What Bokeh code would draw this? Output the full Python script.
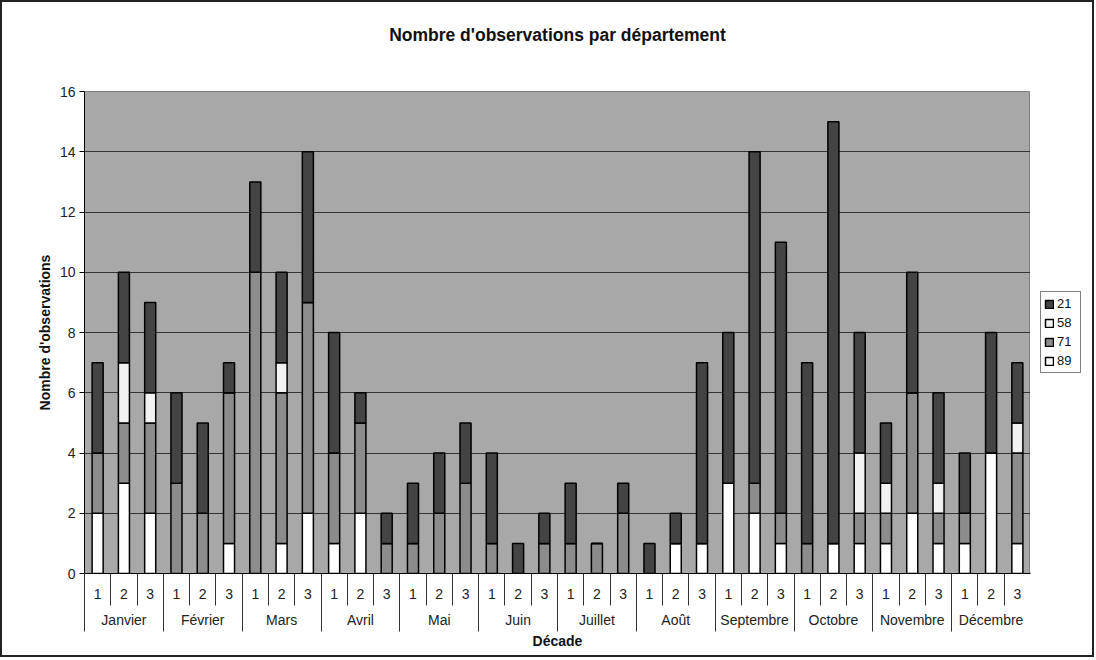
from bokeh.plotting import figure
from bokeh.layouts import row
from bokeh.models import (ColumnDataSource, Range1d, LinearAxis, FixedTicker,
                          Legend, LegendItem, Title)
from bokeh.embed import file_html
from bokeh.resources import INLINE

# ---------------- data ----------------
months = ["Janvier", "Février", "Mars", "Avril", "Mai", "Juin", "Juillet",
          "Août", "Septembre", "Octobre", "Novembre", "Décembre"]
decades = ["1", "2", "3"]
series_names = ["21", "58", "71", "89"]

s89 = [2, 3, 2, 0, 0, 1, 0, 1, 2, 1, 2, 0, 0, 0, 0, 0, 0, 0,
       0, 0, 0, 0, 1, 1, 3, 2, 1, 0, 1, 1, 1, 2, 1, 1, 4, 1]
s71 = [2, 2, 3, 3, 2, 5, 10, 5, 7, 3, 3, 1, 1, 2, 3, 1, 0, 1,
       1, 1, 2, 0, 0, 0, 0, 1, 1, 1, 0, 1, 1, 4, 1, 1, 0, 3]
s58 = [0, 2, 1, 0, 0, 0, 0, 1, 0, 0, 0, 0, 0, 0, 0, 0, 0, 0,
       0, 0, 0, 0, 0, 0, 0, 0, 0, 0, 0, 2, 1, 0, 1, 0, 0, 1]
s21 = [3, 3, 3, 3, 3, 1, 3, 3, 5, 4, 1, 1, 2, 2, 2, 3, 1, 1,
       2, 0, 1, 1, 1, 6, 5, 11, 9, 6, 14, 4, 2, 4, 3, 2, 4, 2]
y_ticks = [0, 2, 4, 6, 8, 10, 12, 14, 16]
title_text = "Nombre d'observations par département"

colors = {"89": "#ffffff", "71": "#8c8c8c", "58": "#f2f2f2", "21": "#444444"}

# ---------------- layout helpers ----------------
n_dec = len(decades)
n = len(months) * n_dec
x_centers = [i + 0.5 for i in range(n)]
labels_dec = [decades[i % n_dec] for i in range(n)]
month_centers = [m * n_dec + n_dec / 2 for m in range(len(months))]

source = ColumnDataSource(dict(x=x_centers, s89=s89, s71=s71, s58=s58, s21=s21))

FONT = "Liberation Sans"
TOTAL_H = 653

p = figure(frame_width=946, frame_height=482, output_backend="svg", toolbar_location=None,
           x_range=Range1d(0, n), y_range=Range1d(0, 16),
           x_axis_location=None,
           min_border_left=82, min_border_right=0, min_border_top=89,
           min_border_bottom=82)

# real title, with a thin spacer title between it and the plot area
p.title.text = title_text
p.title.align = "center"
p.title.text_font = FONT
p.title.text_font_size = "17.5px"
p.title.text_font_style = "bold"
p.title.text_color = "#111111"
p.title.standoff = 0
spacer = Title(text=" ", text_font_size="1px", standoff=44)
p.add_layout(spacer, "above")

p.background_fill_color = "#a8a8a8"
p.border_fill_color = "white"
p.outline_line_color = "#808080"

stack = ["s89", "s71", "s58", "s21"]
renderers = p.vbar_stack(stack, x="x", width=0.42, source=source,
                         color=[colors["89"], colors["71"], colors["58"], colors["21"]],
                         line_color="black", line_width=1.5)

# y axis
yax = p.yaxis[0]
yax.ticker = FixedTicker(ticks=y_ticks)
yax.axis_label = "Nombre d'observations"
yax.axis_label_text_font = FONT
yax.axis_label_text_font_size = "14px"
yax.axis_label_text_font_style = "bold"
yax.axis_label_text_color = "#111111"
yax.axis_label_standoff = 4
yax.major_label_text_font = FONT
yax.major_label_text_font_size = "14px"
yax.major_label_text_color = "#222222"
yax.major_tick_out = 5
yax.major_tick_in = 0
yax.minor_tick_line_color = None
yax.axis_line_color = "black"
yax.major_tick_line_color = "black"
yax.major_label_standoff = 4

p.xgrid.grid_line_color = None
p.ygrid.grid_line_color = "#333333"
p.ygrid.grid_line_width = 1.2

# x axis: decades
ax1 = LinearAxis(ticker=FixedTicker(ticks=x_centers, minor_ticks=list(range(n + 1))),
                 major_label_overrides={x: l for x, l in zip(x_centers, labels_dec)})
ax1.axis_line_color = "black"
ax1.major_tick_line_color = None
ax1.major_tick_out = 0
ax1.major_tick_in = 0
ax1.minor_tick_line_color = "#333333"
ax1.minor_tick_out = 0
ax1.minor_tick_in = -32
ax1.major_label_standoff = 15
ax1.major_label_text_font = FONT
ax1.major_label_text_font_size = "14px"
ax1.major_label_text_color = "#222222"
p.add_layout(ax1, "below")

# x axis: months
ax2 = LinearAxis(ticker=FixedTicker(ticks=month_centers,
                                    minor_ticks=[m * n_dec for m in range(len(months) + 1)]),
                 major_label_overrides={x: l for x, l in zip(month_centers, months)})
ax2.axis_line_color = None
ax2.major_tick_line_color = None
ax2.major_tick_out = 0
ax2.major_tick_in = 0
ax2.minor_tick_line_color = "#333333"
ax2.minor_tick_out = 0
ax2.minor_tick_in = -30
ax2.major_label_standoff = 10
ax2.major_label_text_font = FONT
ax2.major_label_text_font_size = "14px"
ax2.major_label_text_color = "#222222"
ax2.axis_label = "Décade"
ax2.axis_label_text_font = FONT
ax2.axis_label_text_font_size = "14px"
ax2.axis_label_text_font_style = "bold"
ax2.axis_label_text_color = "#111111"
ax2.axis_label_standoff = 2
p.add_layout(ax2, "below")

# ---------------- legend panel ----------------
pl = figure(width=62, height=TOTAL_H, output_backend="svg", toolbar_location=None,
            x_range=Range1d(0, 1), y_range=Range1d(0, 1),
            x_axis_location=None, y_axis_location=None,
            min_border=0)
pl.outline_line_color = None
pl.background_fill_color = "white"
pl.border_fill_color = "white"
pl.xgrid.grid_line_color = None
pl.ygrid.grid_line_color = None
# hidden stand-in glyphs (outside the visible range) so the legend can draw swatches
dummy = ColumnDataSource(dict(x=[-5], top=[0]))
lr = {}
for s in series_names:
    lr[s] = pl.vbar(x="x", top="top", width=0.5, source=dummy,
                    fill_color=colors[s], line_color="black", line_width=1.5)

legend = Legend(items=[LegendItem(label=s, renderers=[lr[s]]) for s in series_names])
legend.location = (10, 200)
legend.margin = 0
legend.padding = 3
legend.spacing = 2
legend.label_text_font = FONT
legend.label_text_font_size = "13px"
legend.label_text_color = "#111111"
legend.label_height = 17
legend.glyph_width = 10
legend.glyph_height = 10
legend.label_standoff = 3
legend.border_line_color = "black"
legend.border_line_width = 1
legend.background_fill_color = "white"
pl.add_layout(legend)

layout = row(p, pl, spacing=0)
layout.styles = {"border": "2px solid #222222"}

open("out.html", "w").write(file_html(layout, INLINE))
